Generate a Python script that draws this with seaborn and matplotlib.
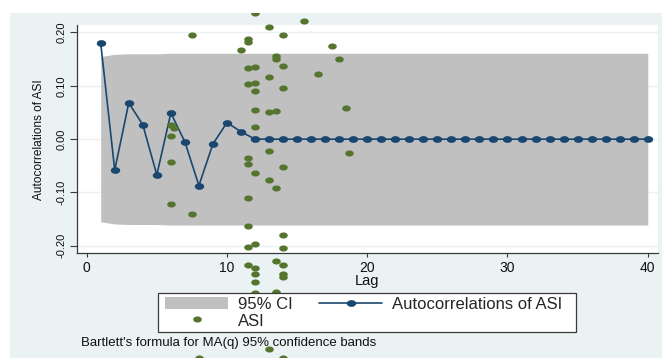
import numpy as np
import matplotlib
matplotlib.use("Agg")
import matplotlib.pyplot as plt
from matplotlib.path import Path
from matplotlib.patches import Rectangle
import seaborn as sns

# Autocorrelations of ASI, lags 1..40
lags = list(range(1, 41))
acf = [0.180, -0.058, 0.068, 0.027, -0.067, 0.049, -0.005, -0.087, -0.009,
       0.031, 0.014] + [0.0] * 29

# Bartlett 95% confidence band half-width per lag
ci_half = [0.155, 0.159, 0.160, 0.160, 0.160] + [0.161] * 35

# ASI points
asi_x = [12, 13, 15.5, 7.5, 11.5, 11.5, 14, 17.5, 11, 13.5, 13.5, 18, 11.5, 12,
         14, 16.5, 13, 11.5, 12, 12, 14, 18.5, 12, 13, 13.5, 6, 6.2, 6, 12, 13,
         18.7, 6, 11.5, 11.5, 14, 12, 13, 13.5, 11.5, 6, 7.5, 11.5, 14, 11.5, 12,
         14, 13.5, 11.5, 12, 14, 12, 14, 14, 12, 13.5, 12, 13, 14, 8]
asi_y = [0.236, 0.211, 0.222, 0.196, 0.188, 0.183, 0.196, 0.175, 0.168, 0.155,
         0.150, 0.151, 0.133, 0.136, 0.138, 0.122, 0.116, 0.104, 0.105, 0.090,
         0.095, 0.059, 0.055, 0.050, 0.052, 0.027, 0.021, 0.006, 0.022, -0.022,
         -0.026, -0.042, -0.036, -0.047, -0.052, -0.064, -0.077, -0.091, -0.111,
         -0.122, -0.141, -0.162, -0.180, -0.202, -0.197, -0.204, -0.228, -0.235,
         -0.241, -0.235, -0.253, -0.253, -0.259, -0.267, -0.286, -0.288, -0.394,
         -0.410, -0.410]

x_ticks = [0, 10, 20, 30, 40]
y_ticks = [-0.20, -0.10, 0.00, 0.10, 0.20]

NAVY = "#1A476F"
GREEN = "#55752F"
BAND = "#C0C0C0"
REGION = "#EAF2F3"
EDGE = "#3a3a3a"
INK = "#111111"

sns.set_style("white")
plt.rcParams["font.family"] = ["Liberation Sans", "DejaVu Sans"]
plt.rcParams["axes.unicode_minus"] = False

W, H = 662, 358
fig = plt.figure(figsize=(W / 100, H / 100), dpi=100)
fig.patch.set_facecolor("white")

# light graph region
region = Rectangle((10 / W, 0), 652 / W, 345 / H, transform=fig.transFigure,
                   facecolor=REGION, edgecolor="none", zorder=-5)
fig.add_artist(region)

ax = fig.add_axes([77 / W, 1 - 253.3 / H, 581 / W, 228.3 / H])
ax.set_facecolor("white")

# horizontally elongated dot marker
t = np.linspace(0, 2 * np.pi, 40)
ellipse = Path(np.column_stack([0.7 * np.cos(t), 0.5 * np.sin(t)]), closed=True)

lo = [-c for c in ci_half]
ax.fill_between(lags, lo, ci_half, color=BAND, linewidth=0, zorder=1,
                label="95% CI")

sns.lineplot(x=lags, y=acf, ax=ax, color=NAVY, linewidth=1.2, marker=ellipse,
             markersize=6.8, markeredgewidth=0, zorder=3,
             label="Autocorrelations of ASI")

sns.scatterplot(x=asi_x, y=asi_y, ax=ax, color=GREEN, marker=ellipse, s=38,
                linewidth=0, zorder=4, label="ASI")
sc = ax.collections[-1]
sc.set_clip_on(True)
sc.set_clip_path(region)

ax.set_xlim(-0.69, 40.73)
ax.set_ylim(-0.214, 0.214)
ax.set_xticks(x_ticks)
ax.set_xticklabels([str(v) for v in x_ticks])
ax.set_yticks(y_ticks)
ax.set_yticklabels([f"{v:.2f}" for v in y_ticks])

ax.grid(axis="y", color=REGION, linewidth=1.0, zorder=0)
ax.set_axisbelow(True)

for side in ("top", "right"):
    ax.spines[side].set_visible(False)
for side in ("left", "bottom"):
    ax.spines[side].set_color(EDGE)
    ax.spines[side].set_linewidth(0.9)

ax.tick_params(axis="x", length=3.2, width=0.8, color=EDGE, pad=2,
               labelsize=10, labelcolor=INK, bottom=True)
ax.tick_params(axis="y", length=5, width=0.8, color=EDGE, pad=2.5,
               labelsize=8, labelcolor=INK, left=True)
for lab in ax.get_yticklabels():
    lab.set_rotation(90)
    lab.set_va("center")
    lab.set_ha("right")

ax.set_xlabel("Lag", fontsize=10.5, color=INK)
ax.xaxis.label.set_va("center")
ax.xaxis.set_label_coords(0.5, (253.3 - 281) / 228.3)
ax.set_ylabel("Autocorrelations of ASI", fontsize=8.6, color=INK)
ax.yaxis.label.set_va("center")
ax.yaxis.set_label_coords((39.3 - 77) / 581, 0.5)

# legend box, drawn over the points
box = Rectangle((158 / W, 1 - 332 / H), 418 / W, 39 / H,
                transform=fig.transFigure, facecolor="white", edgecolor=EDGE,
                linewidth=0.9, zorder=5.5, clip_on=False)
ax.add_artist(box)

handles, labels = ax.get_legend_handles_labels()
order = [labels.index("95% CI"), labels.index("ASI"),
         labels.index("Autocorrelations of ASI")]
leg = ax.legend([handles[i] for i in order], [labels[i] for i in order],
                ncol=2, loc="upper left",
                bbox_to_anchor=(165 / W, 1 - 296.5 / H),
                bbox_transform=fig.transFigure, borderaxespad=0,
                fontsize=12, frameon=False,
                handlelength=3.8, handleheight=0.8, handletextpad=0.6,
                columnspacing=1.55, borderpad=0, labelspacing=0.12,
                scatteryoffsets=[0.5])
leg.set_zorder(6)

fig.text(80.7 / W, 1 - 343.3 / H,
         "Bartlett's formula for MA(q) 95% confidence bands",
         fontsize=9.5, color=INK, va="center", ha="left", zorder=-1)

fig.savefig("out.png", dpi=100)
